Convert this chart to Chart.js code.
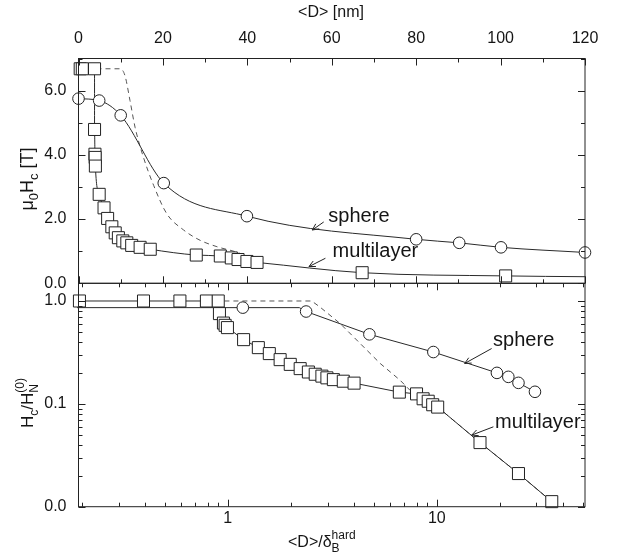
<!DOCTYPE html>
<html>
<head>
<meta charset="utf-8">
<script src="https://cdn.jsdelivr.net/npm/chart.js@4.4.1/dist/chart.umd.min.js"></script>
<style>
  html, body { margin: 0; padding: 0; background: #fff; }
  #wrap { position: relative; width: 618px; height: 557px; overflow: hidden; }
  canvas { position: absolute; left: 0; }
  #top { top: 0; }
  #bottom { top: 280px; }
</style>
</head>
<body>
<div id="wrap">
  <canvas id="top" width="618" height="300"></canvas>
  <canvas id="bottom" width="618" height="277"></canvas>
</div>
<script>
// ---- top panel: <D> [nm] vs mu0 Hc [T]
const sphereTopD  = [0, 4.9, 10.0, 20.2, 39.9, 80.0, 90.2, 100.1, 120.0];
const sphereTopHc = [5.75, 5.69, 5.23, 3.12, 2.09, 1.37, 1.26, 1.12, 0.96];

const multiTopD  = [0.4, 0.9, 3.8, 3.8, 3.9, 3.95, 4.0, 4.9, 6.05, 6.9, 7.9, 8.7, 9.45, 10.5, 11.45, 12.6, 14.6, 17.0, 27.9, 33.6, 36.2, 37.8, 39.9, 42.3, 67.2, 101.2];
const multiTopHc = [6.68, 6.68, 6.68, 4.79, 4.02, 3.92, 3.65, 2.77, 2.35, 2.02, 1.76, 1.57, 1.42, 1.32, 1.26, 1.18, 1.12, 1.06, 0.88, 0.85, 0.79, 0.74, 0.68, 0.65, 0.33, 0.23];
// the fitted multilayer curve runs on past the last square
const multiTopEndD  = [120];
const multiTopEndHc = [0.205];

const dashTopD  = [0, 9.85, 11.0, 12.2, 13.4, 15.2, 17.8, 20.9, 24.9, 28.8, 32.8, 38.3, 41.0];
const dashTopHc = [6.68, 6.68, 6.47, 5.69, 4.86, 4.0, 3.05, 2.17, 1.66, 1.34, 1.14, 0.93, 0.74];

// ---- bottom panel: <D>/deltaB vs Hc/HN(0), log-log
const sphereBotX = [1.18, 2.37, 4.76, 9.63, 19.4, 22.0, 24.6, 29.5];
const sphereBotY = [0.862, 0.79, 0.474, 0.319, 0.20, 0.183, 0.16, 0.131];
const sphereBotLineX = [0.19, 1.18, 2.2, 2.37, 4.76, 9.63, 19.4, 22.0, 24.6, 29.5];
const sphereBotLineY = [0.862, 0.862, 0.862, 0.79, 0.474, 0.319, 0.20, 0.183, 0.16, 0.131];

const multiBotX = [0.195, 0.395, 0.59, 0.79, 0.90, 0.912, 0.953, 0.971, 0.996, 1.19, 1.40, 1.58, 1.78, 1.99, 2.22, 2.43, 2.62, 2.82, 2.98, 3.2, 3.57, 4.02, 6.62, 8.0, 8.6, 9.1, 9.56, 10.1, 16.1, 24.6, 35.5];
const multiBotY = [1.0, 1.0, 1.0, 1.0, 1.0, 0.754, 0.61, 0.58, 0.551, 0.421, 0.352, 0.308, 0.269, 0.242, 0.22, 0.204, 0.194, 0.186, 0.179, 0.172, 0.166, 0.159, 0.13, 0.125, 0.112, 0.106, 0.098, 0.093, 0.042, 0.021, 0.0112];

const dashBotX = [0.79, 2.52, 2.76, 3.45, 4.30, 5.36, 6.67, 7.43, 8.32, 9.1, 10.1, 16.1, 24.6, 35.5];
const dashBotY = [1.0, 1.0, 0.874, 0.603, 0.386, 0.247, 0.17, 0.136, 0.117, 0.106, 0.093, 0.042, 0.021, 0.0112];

// ---- tick labels
const topXTicks = [0, 20, 40, 60, 80, 100, 120];
const topYTicks = [0, 2, 4, 6];
const botXTicks = [1, 10];
const botXLabels = ['1', '10'];
const botYTicks = [0.01, 0.1, 1];
const botYLabels = ['0.0', '0.1', '1.0'];

const FONT = '"Liberation Sans", Arial, Helvetica, sans-serif';
const INK = '#151515';

function pts(xs, ys) {
    return xs.map((x, i) => ({ x: x, y: ys[i] }));
}

// fixed axis boxes so both panels line up on the same pixels
function fixBox(size) {
    return function(s) {
        if (s.isHorizontal()) s.height = size; else s.width = size;
        s.paddingLeft = s.paddingRight = s.paddingTop = s.paddingBottom = 0;
    };
}

function linTicks(min, max, step, majorEvery) {
    const out = [];
    for (let v = min; v <= max + 1e-9; v += step) {
        out.push([v, Math.abs(v / majorEvery - Math.round(v / majorEvery)) < 1e-6]);
    }
    return out;
}

function logTicks(min, max) {
    const out = [];
    for (let e = Math.floor(Math.log10(min)); e <= Math.ceil(Math.log10(max)); e++) {
        for (let k = 1; k <= 9; k++) {
            const v = k * Math.pow(10, e);
            if (v >= min * 0.999 && v <= max * 1.001) out.push([v, k === 1]);
        }
    }
    return out;
}

// text with sub/superscripts: kind 'n' normal, 'sub', 'over' = superscript stacked above previous sub
function drawRich(ctx, parts, x, y, size, center) {
    let cur = 0, lastStart = 0;
    const items = [];
    parts.forEach(([t, k]) => {
        const s = k === 'n' ? size : Math.round(size * 0.72);
        ctx.font = s + 'px ' + FONT;
        const w = ctx.measureText(t).width;
        let x0 = cur;
        if (k === 'over') {
            x0 = lastStart;
            cur = Math.max(cur, x0 + w);
        } else {
            lastStart = cur;
            cur += w;
        }
        const dy = k === 'sub' ? size * 0.3 : k === 'over' ? -size * 0.52 : 0;
        items.push({ t: t, s: s, x: x0, dy: dy });
    });
    const off = center ? -cur / 2 : 0;
    ctx.textBaseline = 'alphabetic';
    ctx.textAlign = 'left';
    items.forEach(it => {
        ctx.font = it.s + 'px ' + FONT;
        ctx.fillText(it.t, x + off + it.x, y + it.dy);
    });
}

function drawFrame(chart, xt, yt) {
    const { ctx, chartArea: a } = chart;
    const xs = chart.scales.x, ys = chart.scales.y;
    ctx.save();
    ctx.strokeStyle = '#222';
    ctx.lineWidth = 1;
    ctx.strokeRect(a.left, a.top, a.right - a.left, a.bottom - a.top);
    ctx.beginPath();
    xt.forEach(([v, major]) => {
        const p = Math.round(xs.getPixelForValue(v)) + 0.5;
        const len = major ? 7 : 4;
        ctx.moveTo(p, a.top); ctx.lineTo(p, a.top + len);
        ctx.moveTo(p, a.bottom); ctx.lineTo(p, a.bottom - len);
    });
    yt.forEach(([v, major]) => {
        const p = Math.round(ys.getPixelForValue(v)) + 0.5;
        const len = major ? 7 : 4;
        ctx.moveTo(a.left, p); ctx.lineTo(a.left + len, p);
        ctx.moveTo(a.right, p); ctx.lineTo(a.right - len, p);
    });
    ctx.stroke();
    ctx.restore();
}

function drawNotes(chart, notes) {
    const ctx = chart.ctx;
    const xs = chart.scales.x, ys = chart.scales.y;
    ctx.save();
    ctx.fillStyle = INK;
    ctx.strokeStyle = '#222';
    ctx.lineWidth = 1;
    ctx.font = '20px ' + FONT;
    ctx.textBaseline = 'alphabetic';
    notes.forEach(n => {
        ctx.fillText(n.text, xs.getPixelForValue(n.at[0]), ys.getPixelForValue(n.at[1]));
        const x0 = xs.getPixelForValue(n.from[0]), y0 = ys.getPixelForValue(n.from[1]);
        const x1 = xs.getPixelForValue(n.to[0]), y1 = ys.getPixelForValue(n.to[1]);
        const ang = Math.atan2(y1 - y0, x1 - x0);
        ctx.beginPath();
        ctx.moveTo(x0, y0);
        ctx.lineTo(x1, y1);
        [-1, 1].forEach(s => {
            ctx.moveTo(x1, y1);
            ctx.lineTo(x1 - 7 * Math.cos(ang + s * 0.45), y1 - 7 * Math.sin(ang + s * 0.45));
        });
        ctx.stroke();
    });
    ctx.restore();
}

function markers(data, style) {
    return {
        data: data, showLine: false, order: 0, clip: false,
        pointStyle: style, pointRadius: style === 'rect' ? 8.5 : 5.8,
        pointBackgroundColor: '#fff', pointBorderColor: '#222', pointBorderWidth: 1
    };
}

function curve(data, dashed, smooth) {
    return {
        data: data, showLine: true, order: dashed ? 2 : 1, clip: false,
        pointRadius: 0, borderColor: dashed ? '#555' : '#2a2a2a', borderWidth: 1,
        borderDash: dashed ? [5, 4] : [],
        cubicInterpolationMode: smooth ? 'monotone' : 'default', tension: 0
    };
}

const tickFont = { family: FONT, size: 16 };
const common = {
    responsive: false,
    animation: false,
    plugins: { legend: { display: false }, tooltip: { enabled: false } },
    elements: { line: { fill: false } }
};

// ---- top chart
new Chart(document.getElementById('top'), {
    type: 'line',
    data: {
        datasets: [
            markers(pts(sphereTopD, sphereTopHc), 'circle'),
            markers(pts(multiTopD, multiTopHc), 'rect'),
            curve(pts(sphereTopD, sphereTopHc), false, true),
            curve(pts(multiTopD.concat(multiTopEndD), multiTopHc.concat(multiTopEndHc)), false, true),
            curve(pts(dashTopD, dashTopHc), true, true)
        ]
    },
    options: Object.assign({}, common, {
        layout: { autoPadding: false, padding: { left: 0, right: 33, top: 0, bottom: 16.7 } },
        scales: {
            x: {
                type: 'linear', position: 'top', min: 0, max: 120,
                afterBuildTicks: s => { s.ticks = topXTicks.map(v => ({ value: v })); },
                afterFit: fixBox(58.5),
                grid: { display: false, drawTicks: false }, border: { display: false },
                ticks: { color: INK, font: tickFont, padding: 10.6, maxRotation: 0, autoSkip: false }
            },
            y: {
                type: 'linear', min: 0, max: 7,
                afterBuildTicks: s => { s.ticks = topYTicks.map(v => ({ value: v })); },
                afterFit: fixBox(78.5),
                grid: { display: false, drawTicks: false }, border: { display: false },
                ticks: { color: INK, font: tickFont, padding: 12, autoSkip: false,
                         callback: v => Number(v).toFixed(1) }
            }
        }
    }),
    plugins: [{
        id: 'topDeco',
        afterDatasetsDraw(chart) {
            drawNotes(chart, [
                { text: 'sphere', at: [59.2, 1.91], from: [58.1, 1.91], to: [55.4, 1.66] },
                { text: 'multilayer', at: [60.2, 0.83], from: [58.5, 0.78], to: [54.6, 0.52] }
            ]);
        },
        afterDraw(chart) {
            drawFrame(chart, linTicks(0, 120, 10, 20), linTicks(0, 7, 1, 2));
            const ctx = chart.ctx;
            ctx.save();
            ctx.fillStyle = INK;
            ctx.font = '16px ' + FONT;
            ctx.textAlign = 'center';
            ctx.textBaseline = 'middle';
            ctx.fillText('<D> [nm]', 331, 12.5);
            ctx.translate(33, 179);
            ctx.rotate(-Math.PI / 2);
            drawRich(ctx, [['μ', 'n'], ['0', 'sub'], ['H', 'n'], ['c', 'sub'], [' [T]', 'n']], 0, 0, 18, true);
            ctx.restore();
        }
    }]
});

// ---- bottom chart
new Chart(document.getElementById('bottom'), {
    type: 'line',
    data: {
        datasets: [
            markers(pts(sphereBotX, sphereBotY), 'circle'),
            markers(pts(multiBotX, multiBotY), 'rect'),
            curve(pts(sphereBotLineX, sphereBotLineY), false, false),
            curve(pts(multiBotX, multiBotY), false, false),
            curve(pts(dashBotX, dashBotY), true, false)
        ]
    },
    options: Object.assign({}, common, {
        layout: { autoPadding: false, padding: { left: 0, right: 33, top: 3.3, bottom: 0 } },
        scales: {
            x: {
                type: 'logarithmic', position: 'bottom', min: 0.193, max: 51.2,
                afterBuildTicks: s => { s.ticks = botXTicks.map(v => ({ value: v })); },
                afterFit: fixBox(50.3),
                grid: { display: false, drawTicks: false }, border: { display: false },
                ticks: { color: INK, font: tickFont, padding: 2.7, maxRotation: 0, autoSkip: false,
                         callback: (v, i) => botXLabels[i] }
            },
            y: {
                type: 'logarithmic', min: 0.01, max: 1.486,
                afterBuildTicks: s => { s.ticks = botYTicks.map(v => ({ value: v })); },
                afterFit: fixBox(78.5),
                grid: { display: false, drawTicks: false }, border: { display: false },
                ticks: { color: INK, font: tickFont, padding: 12, autoSkip: false,
                         callback: (v, i) => botYLabels[i] }
            }
        }
    }),
    plugins: [{
        id: 'botDeco',
        afterDatasetsDraw(chart) {
            drawNotes(chart, [
                { text: 'sphere', at: [18.6, 0.363], from: [18.3, 0.345], to: [13.6, 0.247] },
                { text: 'multilayer', at: [19.0, 0.058], from: [18.66, 0.0598], to: [14.7, 0.0497] }
            ]);
        },
        afterDraw(chart) {
            const xs = chart.scales.x, ys = chart.scales.y;
            drawFrame(chart, logTicks(xs.min, xs.max), logTicks(ys.min, ys.max));
            const ctx = chart.ctx;
            ctx.save();
            ctx.fillStyle = INK;
            drawRich(ctx, [['<D>/δ', 'n'], ['B', 'sub'], ['hard', 'over']], 288, 267, 16, false);
            ctx.translate(33, 123);
            ctx.rotate(-Math.PI / 2);
            drawRich(ctx, [['H', 'n'], ['c', 'sub'], ['/H', 'n'], ['N', 'sub'], ['(0)', 'over']], 0, 0, 17, true);
            ctx.restore();
        }
    }]
});
</script>
</body>
</html>
